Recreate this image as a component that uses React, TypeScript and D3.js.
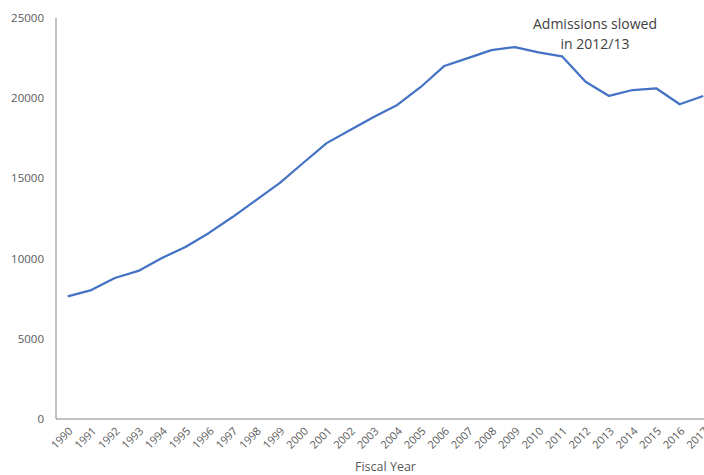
import { useEffect, useRef } from "react";
import * as d3 from "d3";

const years = [
  "1990", "1991", "1992", "1993", "1994", "1995", "1996", "1997", "1998", "1999",
  "2000", "2001", "2002", "2003", "2004", "2005", "2006", "2007", "2008", "2009",
  "2010", "2011", "2012", "2013", "2014", "2015", "2016", "2017",
];
const admissions = [
  7650, 8040, 8790, 9230, 10040, 10720, 11600, 12590, 13650, 14710,
  15960, 17200, 18020, 18830, 19580, 20700, 22010, 22500, 23000, 23190,
  22860, 22610, 21030, 20140, 20510, 20620, 19620, 20140,
];
const yTicks = [0, 5000, 10000, 15000, 20000, 25000];
const annotationLines = ["Admissions slowed", "in 2012/13"];

const W = 704;
const H = 475;
const margin = { top: 18, left: 56, bottom: 56 };
const plotRight = 715;
const FONT = "'Open Sans', 'Liberation Sans', sans-serif";

export default function App() {
  const svgRef = useRef<SVGSVGElement>(null);

  useEffect(() => {
    if (!svgRef.current) return;
    const svg = d3.select(svgRef.current);
    svg.selectAll("*").remove();

    const x = d3.scaleBand<string>().domain(years).range([margin.left, plotRight]);
    const y = d3.scaleLinear().domain([0, 25000]).range([H - margin.bottom, margin.top]);
    const cx = (d: string) => x(d)! + x.bandwidth() / 2;

    // y axis labels
    svg
      .append("g")
      .selectAll("text")
      .data(yTicks)
      .enter()
      .append("text")
      .attr("x", margin.left - 12)
      .attr("y", (d) => y(d))
      .attr("dy", "0.35em")
      .attr("text-anchor", "end")
      .style("font-family", FONT)
      .style("font-size", "11.5px")
      .style("fill", "#595959")
      .text((d) => d);

    // axes lines
    svg
      .append("line")
      .attr("x1", margin.left)
      .attr("x2", margin.left)
      .attr("y1", y(25000))
      .attr("y2", y(0))
      .attr("stroke", "#868686")
      .attr("stroke-width", 1);
    svg
      .append("line")
      .attr("x1", margin.left)
      .attr("x2", plotRight)
      .attr("y1", y(0))
      .attr("y2", y(0))
      .attr("stroke", "#868686")
      .attr("stroke-width", 1);

    // x labels
    svg
      .append("g")
      .selectAll("text")
      .data(years)
      .enter()
      .append("text")
      .attr("transform", (d) => `translate(${cx(d) + 3},${y(0) + 10}) rotate(-45)`)
      .attr("text-anchor", "end")
      .attr("dy", "0.35em")
      .style("font-family", FONT)
      .style("font-size", "11px")
      .style("fill", "#595959")
      .text((d) => d);

    svg
      .append("text")
      .attr("x", (margin.left + plotRight) / 2)
      .attr("y", 471)
      .attr("text-anchor", "middle")
      .style("font-family", FONT)
      .style("font-size", "12.5px")
      .style("fill", "#595959")
      .text("Fiscal Year");

    const line = d3
      .line<number>()
      .x((_d, i) => cx(years[i]))
      .y((d) => y(d));

    svg
      .append("path")
      .datum(admissions)
      .attr("d", line)
      .attr("fill", "none")
      .attr("stroke", "#4472C4")
      .attr("stroke-width", 2.25)
      .attr("stroke-linejoin", "round");

    const ann = svg
      .append("text")
      .attr("x", 595)
      .attr("y", 29)
      .attr("text-anchor", "middle")
      .style("font-family", FONT)
      .style("font-size", "14px")
      .style("fill", "#404040");
    annotationLines.forEach((t, i) => {
      ann
        .append("tspan")
        .attr("x", 595)
        .attr("dy", i === 0 ? 0 : 20)
        .text(t);
    });
  }, []);

  return (
    <div
      style={{
        position: "absolute",
        left: 0,
        top: 0,
        width: W,
        height: H,
        overflow: "hidden",
        background: "#fff",
      }}
    >
      <svg ref={svgRef} width={730} height={H} style={{ display: "block" }} />
    </div>
  );
}
